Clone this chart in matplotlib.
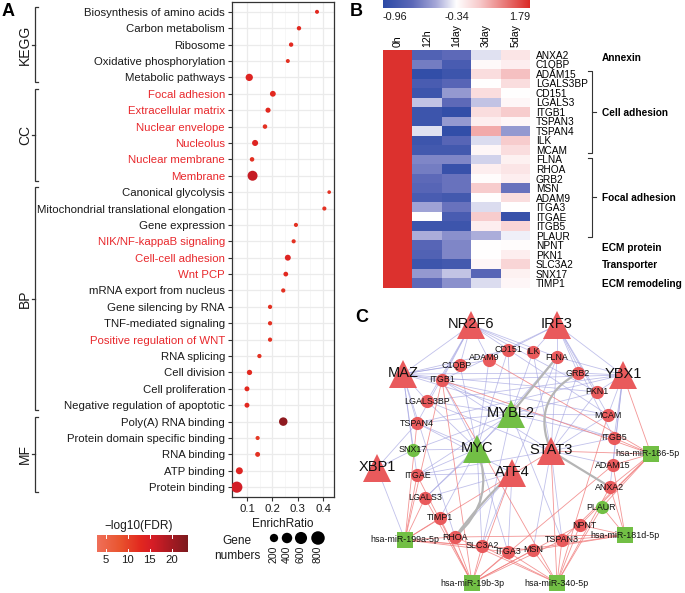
import matplotlib
matplotlib.use('Agg')
import matplotlib.pyplot as plt
import numpy as np
from matplotlib.colors import LinearSegmentedColormap, TwoSlopeNorm
from matplotlib.collections import LineCollection
from matplotlib.patches import FancyArrowPatch
import matplotlib.transforms as mtrans

plt.rcParams['font.family'] = ['Liberation Sans', 'DejaVu Sans']

# ---------------- Panel A data ----------------
terms = ['Biosynthesis of amino acids', 'Carbon metabolism', 'Ribosome',
         'Oxidative phosphorylation', 'Metabolic pathways',
         'Focal adhesion', 'Extracellular matrix', 'Nuclear envelope',
         'Nucleolus', 'Nuclear membrane', 'Membrane',
         'Canonical glycolysis', 'Mitochondrial translational elongation',
         'Gene expression', 'NIK/NF-kappaB signaling', 'Cell-cell adhesion',
         'Wnt PCP', 'mRNA export from nucleus', 'Gene silencing by RNA',
         'TNF-mediated signaling', 'Positive regulation of WNT', 'RNA splicing',
         'Cell division', 'Cell proliferation', 'Negative regulation of apoptotic',
         'Poly(A) RNA binding', 'Protein domain specific binding', 'RNA binding',
         'ATP binding', 'Protein binding']
enrich_ratio = [0.376, 0.305, 0.274, 0.261, 0.109,
                0.202, 0.183, 0.171, 0.132, 0.120, 0.122,
                0.424, 0.405, 0.293, 0.284, 0.261, 0.253, 0.243, 0.191,
                0.191, 0.191, 0.149, 0.110, 0.100, 0.100,
                0.243, 0.142, 0.142, 0.070, 0.060]
gene_numbers = [6, 12, 12, 6, 130,
                55, 30, 15, 65, 15, 350,
                2, 8, 8, 8, 60, 20, 10, 10, 10, 10, 10, 35, 25, 25,
                215, 8, 25, 110, 480]
neg_log10_fdr = [13, 13, 13, 12, 14,
                 13, 13, 12, 14, 12, 17,
                 12, 12, 12, 12, 14, 13, 12, 12, 12, 12, 12, 13, 13, 13,
                 22, 11, 12, 14, 16]
red_terms = ['Focal adhesion', 'Extracellular matrix', 'Nuclear envelope', 'Nucleolus',
             'Nuclear membrane', 'Membrane', 'NIK/NF-kappaB signaling',
             'Cell-cell adhesion', 'Wnt PCP', 'Positive regulation of WNT']
group_names = ['KEGG', 'CC', 'BP', 'MF']
group_start = [0, 5, 11, 25]
group_end = [4, 10, 24, 29]
size_legend_values = [200, 400, 600, 800]
fdr_ticks = [5, 10, 15, 20]

# ---------------- Panel B data ----------------
hm_genes = ['ANXA2', 'C1QBP', 'ADAM15', 'LGALS3BP', 'CD151', 'LGALS3', 'ITGB1',
            'TSPAN3', 'TSPAN4', 'ILK', 'MCAM', 'FLNA', 'RHOA', 'GRB2', 'MSN',
            'ADAM9', 'ITGA3', 'ITGAE', 'ITGB5', 'PLAUR', 'NPNT', 'PKN1',
            'SLC3A2', 'SNX17', 'TIMP1']
hm_columns = ['0h', '12h', '1day', '3day', '5day']
val_0h = [1.72] * 25
val_12h = [-0.77, -0.65, -0.93, -0.81, -0.87, -0.46, -0.87, -0.87, -0.40, -0.87,
           -0.84, -0.62, -0.65, -0.71, -0.74, -0.81, -0.53, -0.34, -0.87, -0.50,
           -0.74, -0.77, -0.87, -0.56, -0.71]
val_1day = [-0.71, -0.81, -0.87, -0.74, -0.56, -0.71, -0.93, -0.56, -0.93, -0.74,
            -0.84, -0.62, -0.90, -0.68, -0.68, -0.84, -0.68, -0.81, -0.87, -0.59,
            -0.62, -0.62, -0.84, -0.46, -0.59]
val_3day = [-0.40, -0.26, 0.09, -0.34, 0.09, -0.46, 0.09, -0.13, 0.62, -0.41,
            -0.23, -0.43, -0.13, -0.30, 0.30, -0.34, -0.41, 0.30, -0.13, -0.50,
            -0.34, -0.34, -0.23, -0.74, -0.41]
val_5day = [-0.02, -0.13, 0.41, 0.09, -0.34, -0.23, 0.30, -0.23, -0.56, 0.30,
            0.09, -0.17, -0.02, -0.13, -0.68, 0.09, -0.34, -0.90, 0.19, -0.37,
            -0.30, -0.13, 0.19, -0.17, -0.23]
hm_min, hm_mid, hm_max = -0.96, -0.34, 1.79
hm_groups = ['Annexin', 'Cell adhesion', 'Focal adhesion', 'ECM protein',
             'Transporter', 'ECM remodeling']
hm_group_row = [0.8, 6.6, 15.5, 20.8, 22.6, 24.6]
hm_brackets = [(2.2, 10.8), (11.35, 19.6)]

# ---------------- Panel C data ----------------
tf_red = ['NR2F6', 'IRF3', 'MAZ', 'YBX1', 'XBP1', 'STAT3', 'ATF4']
tf_green = ['MYBL2', 'MYC']
gene_red = ['CD151', 'ILK', 'ADAM9', 'C1QBP', 'FLNA', 'GRB2', 'ITGB1', 'PKN1',
            'LGALS3BP', 'MCAM', 'TSPAN4', 'ITGB5', 'ITGAE', 'ADAM15', 'ANXA2',
            'LGALS3', 'TIMP1', 'NPNT', 'RHOA', 'SLC3A2', 'ITGA3', 'MSN', 'TSPAN3']
gene_green = ['SNX17', 'PLAUR']
mirnas = ['hsa-miR-186-5p', 'hsa-miR-181d-5p', 'hsa-miR-199a-5p',
          'hsa-miR-19b-3p', 'hsa-miR-340-5p']
# layout (as drawn by the network tool)
node_x = {'NR2F6': 471, 'IRF3': 557, 'MAZ': 403, 'YBX1': 623, 'XBP1': 377,
          'STAT3': 551, 'ATF4': 512, 'MYBL2': 511, 'MYC': 477,
          'CD151': 508, 'ILK': 533, 'ADAM9': 489, 'C1QBP': 460, 'FLNA': 557,
          'GRB2': 578, 'ITGB1': 442, 'PKN1': 597, 'LGALS3BP': 427, 'MCAM': 608,
          'TSPAN4': 417, 'ITGB5': 614, 'ITGAE': 417, 'ADAM15': 613, 'ANXA2': 610,
          'LGALS3': 425, 'TIMP1': 440, 'NPNT': 580, 'RHOA': 455, 'SLC3A2': 482,
          'ITGA3': 508, 'MSN': 533, 'TSPAN3': 562, 'SNX17': 413, 'PLAUR': 602,
          'hsa-miR-186-5p': 651, 'hsa-miR-181d-5p': 625, 'hsa-miR-199a-5p': 405,
          'hsa-miR-19b-3p': 472, 'hsa-miR-340-5p': 557}
node_y = {'NR2F6': 325, 'IRF3': 325, 'MAZ': 374, 'YBX1': 375, 'XBP1': 468,
          'STAT3': 451, 'ATF4': 473, 'MYBL2': 414, 'MYC': 449,
          'CD151': 350, 'ILK': 352, 'ADAM9': 360, 'C1QBP': 365, 'FLNA': 357,
          'GRB2': 373, 'ITGB1': 380, 'PKN1': 392, 'LGALS3BP': 401, 'MCAM': 415,
          'TSPAN4': 423, 'ITGB5': 438, 'ITGAE': 475, 'ADAM15': 465, 'ANXA2': 487,
          'LGALS3': 498, 'TIMP1': 518, 'NPNT': 525, 'RHOA': 537, 'SLC3A2': 546,
          'ITGA3': 552, 'MSN': 550, 'TSPAN3': 540, 'SNX17': 450, 'PLAUR': 507,
          'hsa-miR-186-5p': 454, 'hsa-miR-181d-5p': 535, 'hsa-miR-199a-5p': 540,
          'hsa-miR-19b-3p': 583, 'hsa-miR-340-5p': 583}
label_dx = {'ADAM9': -5, 'C1QBP': -3, 'NPNT': 4, 'hsa-miR-186-5p': -3, 'PLAUR': -1}
label_dy = {'ADAM9': -2, 'C1QBP': 1}
tf_targets = {
    'NR2F6': ['ILK', 'FLNA', 'ITGB1', 'LGALS3BP', 'TSPAN4', 'ADAM9', 'C1QBP', 'MCAM', 'PKN1', 'MAZ'],
    'IRF3': ['FLNA', 'ILK', 'GRB2', 'ITGB5', 'CD151', 'MCAM', 'PKN1', 'ITGB1', 'YBX1'],
    'MAZ': ['ITGB1', 'LGALS3BP', 'TSPAN4', 'SNX17', 'ITGAE', 'C1QBP', 'ADAM9', 'PKN1',
            'GRB2', 'MCAM', 'ITGB5', 'RHOA', 'CD151'],
    'YBX1': ['PKN1', 'MCAM', 'ITGB5', 'ADAM15', 'GRB2', 'FLNA', 'ITGB1', 'ANXA2',
             'LGALS3BP', 'TSPAN4'],
    'XBP1': ['hsa-miR-199a-5p', 'SNX17', 'TSPAN4'],
    'MYBL2': ['ITGB1', 'LGALS3BP', 'TSPAN4', 'SNX17', 'ITGAE', 'LGALS3', 'MCAM', 'PKN1',
              'ITGB5', 'TSPAN3', 'SLC3A2', 'CD151', 'ILK'],
    'MYC': ['TSPAN4', 'SNX17', 'ITGAE', 'LGALS3', 'TIMP1', 'SLC3A2', 'ITGA3', 'ITGB1',
            'C1QBP', 'ADAM9', 'CD151', 'LGALS3BP', 'FLNA'],
    'STAT3': ['ITGB5', 'ADAM15', 'MCAM', 'PKN1', 'GRB2', 'FLNA', 'TSPAN3', 'MSN',
              'ITGAE', 'ILK', 'LGALS3BP', 'ITGB1'],
    'ATF4': ['SLC3A2', 'ITGA3', 'RHOA', 'LGALS3', 'ITGAE', 'FLNA', 'TSPAN4'],
}
mirna_targets = {
    'hsa-miR-199a-5p': ['TIMP1', 'RHOA', 'ITGAE', 'LGALS3', 'SLC3A2', 'ITGA3', 'TSPAN4',
                        'MSN', 'STAT3', 'ITGB1'],
    'hsa-miR-19b-3p': ['RHOA', 'SLC3A2', 'TIMP1', 'ITGAE', 'LGALS3', 'ITGA3', 'MSN', 'NPNT',
                       'ATF4', 'ADAM15', 'TSPAN3', 'ITGB1'],
    'hsa-miR-340-5p': ['MSN', 'TSPAN3', 'ITGA3', 'SLC3A2', 'RHOA', 'NPNT', 'STAT3', 'MCAM',
                       'ANXA2', 'ITGB1', 'PLAUR'],
    'hsa-miR-181d-5p': ['NPNT', 'PLAUR', 'TSPAN3', 'ANXA2', 'MSN', 'ITGA3', 'ADAM15', 'RHOA'],
    'hsa-miR-186-5p': ['ADAM15', 'ANXA2', 'ITGB5', 'PLAUR', 'NPNT', 'ITGB1', 'ADAM9',
                       'STAT3', 'YBX1', 'TSPAN3'],
}
gray_edges = [('MYBL2', 'FLNA', 0.0), ('GRB2', 'STAT3', 0.45), ('MYC', 'RHOA', -0.35),
              ('ATF4', 'RHOA', 0.05), ('STAT3', 'ANXA2', 0.0)]

# ---------------- figure ----------------
W, H = 685, 593
fig = plt.figure(figsize=(W / 100, H / 100), dpi=100)


def fax(x0, y0, x1, y1):
    return fig.add_axes([x0 / W, 1 - y1 / H, (x1 - x0) / W, (y1 - y0) / H])


def size_pts(n):
    d = 3.1 + 0.368 * np.sqrt(np.asarray(n, dtype=float))
    return (d * 0.72) ** 2


TXT = '#1A1A1A'
RED_TXT = '#E8282C'

# ---- Panel A ----
cmapA = LinearSegmentedColormap.from_list(
    'fdr', [(0, '#F0705A'), (0.25, '#E9552F'), (0.48, '#E2281F'), (0.6, '#D81E26'),
            (0.85, '#9E1A22'), (1, '#7D1A1E')])
fmin, fmax = 3.0, 23.7
axA = fax(232, 2, 334, 497)
rows = np.arange(len(terms))
axA.scatter(enrich_ratio, rows, s=size_pts(gene_numbers), c=neg_log10_fdr, cmap=cmapA,
            vmin=fmin, vmax=fmax, linewidths=0, zorder=3)
axA.set_xlim(0.041, 0.443)
axA.set_ylim(29.6, -0.6)
axA.set_xticks([0.1, 0.2, 0.3, 0.4])
axA.set_xticklabels(['0.1', '0.2', '0.3', '0.4'])
axA.set_xticks([0.05, 0.15, 0.25, 0.35], minor=True)
axA.set_yticks(rows)
axA.set_yticklabels(terms)
axA.grid(which='major', color='#EBEBEB', lw=0.9)
axA.grid(which='minor', axis='x', color='#F4F4F4', lw=0.5)
axA.set_axisbelow(True)
axA.tick_params(which='minor', length=0)
axA.tick_params(which='major', length=3, width=0.8, color='#333333', labelsize=8.2,
                pad=2, labelcolor=TXT)
for lbl, t in zip(axA.get_yticklabels(), terms):
    lbl.set_color(RED_TXT if t in red_terms else TXT)
for s in axA.spines.values():
    s.set_color('#333333')
    s.set_linewidth(0.9)

# overlay axes in pixel coordinates
axO = fig.add_axes([0, 0, 1, 1], zorder=5)
axO.set_xlim(0, W)
axO.set_ylim(H, 0)
axO.axis('off')
axO.patch.set_alpha(0)

blendA = mtrans.blended_transform_factory(axO.transData, axA.transData)
for name, i0, i1 in zip(group_names, group_start, group_end):
    top, bot = i0 - 0.3, i1 + 0.3
    axO.plot([38, 35, 35, 38], [top, top, bot, bot], color='#333333', lw=0.9,
             transform=blendA, solid_joinstyle='miter')
    mid = (i0 + i1) / 2
    axO.plot([32, 35], [mid, mid], color='#333333', lw=0.9, transform=blendA)
    axO.text(25, mid, name, rotation=90, ha='center', va='center', fontsize=10,
             color=TXT, transform=blendA)

axO.text(2, 11, 'A', fontsize=13, fontweight='bold', ha='left', va='center', color='black')
axO.text(283, 524, 'EnrichRatio', fontsize=8.6, ha='center', va='center', color=TXT)

# FDR colorbar
axCB = fax(97, 535, 188, 552)
grad = np.linspace(fmin, fmax, 256).reshape(1, -1)
axCB.imshow(grad, extent=[fmin, fmax, 0, 1], aspect='auto', cmap=cmapA, vmin=fmin, vmax=fmax)
axCB.set_xlim(fmin, fmax)
axCB.set_ylim(0, 1)
for t in fdr_ticks:
    axCB.plot([t, t], [0, 0.2], color='white', lw=0.7)
    axCB.plot([t, t], [0.8, 1], color='white', lw=0.7)
axCB.set_xticks(fdr_ticks)
axCB.set_xticklabels([str(t) for t in fdr_ticks])
axCB.tick_params(length=0, labelsize=8.2, pad=2, labelcolor=TXT)
axCB.set_yticks([])
for s in axCB.spines.values():
    s.set_visible(False)
axO.text(139, 526, '\u2212log10(FDR)', fontsize=8.6, ha='center', va='center', color=TXT)

# size legend
axO.text(237, 541, 'Gene', fontsize=8.6, ha='center', va='center', color=TXT)
axO.text(237, 556, 'numbers', fontsize=8.6, ha='center', va='center', color=TXT)
leg_x = [274, 287, 301, 318]
axO.scatter(leg_x, [538] * 4, s=size_pts(size_legend_values), color='black', linewidths=0)
for x, v in zip(leg_x, size_legend_values):
    axO.text(x, 546, str(v), rotation=90, ha='center', va='top', fontsize=7.6, color=TXT)

# ---- Panel B ----
cmapB = LinearSegmentedColormap.from_list(
    'hm', [(0, '#2C4AA6'), (0.2, '#5D69B8'), (0.36, '#A6A8D8'), (0.5, '#FFFFFF'),
           (0.66, '#F7C9CA'), (1, '#DB2A26')])
normB = TwoSlopeNorm(vmin=hm_min, vcenter=hm_mid, vmax=hm_max)
axB = fax(383, 50, 530, 288)
mat = np.array([val_0h, val_12h, val_1day, val_3day, val_5day]).T
axB.pcolormesh(np.arange(6), np.arange(26), mat, cmap=cmapB, norm=normB)
axB.set_xlim(0, 5)
axB.set_ylim(25, 0)
axB.yaxis.tick_right()
axB.set_yticks(np.arange(25) + 0.5)
axB.set_yticklabels(hm_genes)
axB.xaxis.tick_top()
axB.set_xticks(np.arange(5) + 0.5)
axB.set_xticklabels(hm_columns, rotation=90)
axB.tick_params(axis='y', length=0, pad=4.3, labelsize=7.3, labelcolor='black')
axB.tick_params(axis='x', length=0, pad=2, labelsize=7.6, labelcolor='black')
for s in axB.spines.values():
    s.set_visible(False)

# heatmap colorbar
axBC = fax(383, 0, 530, 8)
axBC.imshow(np.linspace(0, 1, 256).reshape(1, -1), aspect='auto', cmap=cmapB,
            extent=[0, 1, 0, 1])
axBC.axis('off')
axO.text(383, 17, '%.2f' % hm_min, fontsize=7.8, ha='left', va='center', color=TXT)
axO.text(457, 17, '%.2f' % hm_mid, fontsize=7.8, ha='center', va='center', color=TXT)
axO.text(530, 17, '%.2f' % hm_max, fontsize=7.8, ha='right', va='center', color=TXT)
axO.text(350, 12, 'B', fontsize=13, fontweight='bold', ha='left', va='center', color='black')

blendB = mtrans.blended_transform_factory(axO.transData, axB.transData)
for g, r in zip(hm_groups, hm_group_row):
    axO.text(602, r, g, fontsize=7.3, fontweight='bold', ha='left', va='center',
             color='black', transform=blendB)
for t0, t1 in hm_brackets:
    axO.plot([588, 592, 592, 588], [t0, t0, t1, t1], color='#333333', lw=0.8,
             transform=blendB)
    m = (t0 + t1) / 2
    axO.plot([592, 596], [m, m], color='#333333', lw=0.8, transform=blendB)

# ---- Panel C ----
axO.text(355, 318, 'C', fontsize=13, fontweight='bold', ha='left', va='center', color='black')


def pos(n):
    return (node_x[n], node_y[n])


lav = [[pos(tf), pos(t)] for tf, ts in tf_targets.items() for t in ts]
axO.add_collection(LineCollection(lav, colors='#A0A0E0', linewidths=0.6, alpha=0.65, zorder=1))
redl = [[pos(m), pos(t)] for m, ts in mirna_targets.items() for t in ts]
axO.add_collection(LineCollection(redl, colors='#F07A7A', linewidths=0.6, alpha=0.8, zorder=1.1))
for a, b, rad in gray_edges:
    p = FancyArrowPatch(pos(a), pos(b), arrowstyle='-', connectionstyle='arc3,rad=%s' % rad,
                        color='#B5B5B5', lw=1.6, zorder=1.2, shrinkA=0, shrinkB=0)
    axO.add_patch(p)

RED_N = '#E95A5C'
GREEN_N = '#72BF45'
for n in tf_red:
    axO.plot(*pos(n), marker='^', ms=20, color=RED_N, mew=0, zorder=2)
for n in tf_green:
    axO.plot(*pos(n), marker='^', ms=20, color=GREEN_N, mew=0, zorder=2)
for n in gene_red:
    axO.plot(*pos(n), marker='o', ms=9.5, color=RED_N, mew=0, zorder=2)
for n in gene_green:
    axO.plot(*pos(n), marker='o', ms=9.5, color=GREEN_N, mew=0, zorder=2)
for n in mirnas:
    axO.plot(*pos(n), marker='s', ms=11, color=GREEN_N, mew=0, zorder=2)

for n in tf_red + tf_green:
    axO.text(node_x[n], node_y[n] - 1, n, fontsize=10.5, ha='center', va='center',
             color='#111111', zorder=4)
for n in gene_red + gene_green + mirnas:
    axO.text(node_x[n] + label_dx.get(n, 0), node_y[n] + label_dy.get(n, 0), n,
             fontsize=6.4, ha='center', va='center', color='#111111', zorder=4)

fig.savefig('out.png', dpi=100)
